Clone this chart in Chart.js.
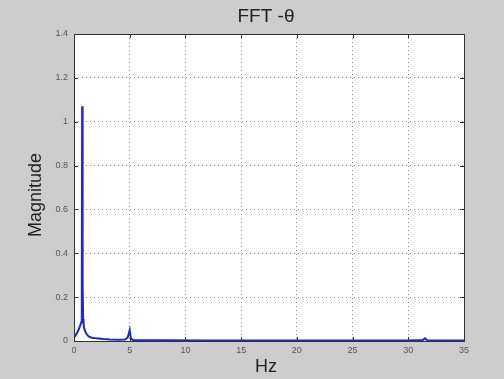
<!DOCTYPE html>
<html>
<head>
<meta charset="utf-8">
<script src="https://cdn.jsdelivr.net/npm/chart.js@4"></script>
<style>
  html, body { margin: 0; padding: 0; background: #cdcdcd; }
  #wrap { width: 504px; height: 379px; position: relative; }
</style>
</head>
<body>
<div id="wrap"><canvas id="fftChart" width="504" height="379"></canvas></div>
<script>
// spectrum samples (Hz, magnitude)
const freqHz = [0, 0.2, 0.4, 0.55, 0.65, 0.7, 0.73, 0.76, 0.79, 0.82, 0.86, 0.9, 1.0, 1.15, 1.35, 1.6, 2.0, 2.6, 3.2, 4.0, 4.6, 4.8, 4.9, 5.0, 5.1, 5.3, 6, 8, 12, 18, 24, 30, 31.3, 31.5, 31.7, 33, 35];
const magnitude = [0.015, 0.03, 0.05, 0.07, 0.085, 0.1, 1.07, 0.09, 0.25, 0.1, 0.08, 0.06, 0.045, 0.03, 0.02, 0.015, 0.012, 0.009, 0.007, 0.006, 0.007, 0.015, 0.03, 0.05, 0.012, 0.004, 0.003, 0.003, 0.002, 0.002, 0.002, 0.002, 0.004, 0.012, 0.003, 0.002, 0.002];
const xTicks = [0, 5, 10, 15, 20, 25, 30, 35];
const yTicks = [0, 0.2, 0.4, 0.6, 0.8, 1, 1.2, 1.4];

const FONT = 'Liberation Sans, Arial, sans-serif';

// white axes box, frame on all sides, and the title / axis labels
const plotBox = {
  id: 'plotBox',
  beforeDraw(chart) {
    const { ctx, chartArea: a } = chart;
    ctx.save();
    ctx.fillStyle = '#ffffff';
    ctx.fillRect(a.left, a.top, a.right - a.left, a.bottom - a.top);
    ctx.restore();
  },
  afterDraw(chart) {
    const { ctx, chartArea: a } = chart;
    const xs = chart.scales.x, ys = chart.scales.y;
    ctx.save();
    ctx.strokeStyle = '#333';
    ctx.lineWidth = 1;
    ctx.strokeRect(a.left + 0.5, a.top + 0.5, a.right - a.left, a.bottom - a.top);
    // small inward ticks on every edge
    ctx.beginPath();
    xTicks.forEach(v => {
      const px = Math.round(xs.getPixelForValue(v)) + 0.5;
      ctx.moveTo(px, a.top); ctx.lineTo(px, a.top + 4);
      ctx.moveTo(px, a.bottom); ctx.lineTo(px, a.bottom - 4);
    });
    yTicks.forEach(v => {
      const py = Math.round(ys.getPixelForValue(v)) + 0.5;
      ctx.moveTo(a.right, py); ctx.lineTo(a.right - 4, py);
      ctx.moveTo(a.left, py); ctx.lineTo(a.left + 4, py);
    });
    ctx.stroke();

    const cx = (a.left + a.right) / 2 - 3;
    ctx.fillStyle = '#222';
    ctx.textAlign = 'center';
    ctx.textBaseline = 'middle';
    ctx.font = '19px ' + FONT;
    ctx.fillText('FFT -θ', cx, 17);
    ctx.font = '18px ' + FONT;
    ctx.fillText('Hz', cx, 367);
    ctx.translate(36, 195);
    ctx.rotate(-Math.PI / 2);
    ctx.fillText('Magnitude', 0, 0);
    ctx.restore();
  }
};

new Chart(document.getElementById('fftChart').getContext('2d'), {
  type: 'scatter',
  data: {
    datasets: [{
      data: freqHz.map((f, i) => ({ x: f, y: magnitude[i] })),
      showLine: true,
      borderColor: '#2424d0',
      borderWidth: 2,
      pointRadius: 0,
      tension: 0
    }]
  },
  options: {
    responsive: false,
    animation: false,
    layout: { padding: { left: 0, right: 40, top: 34, bottom: 0 } },
    plugins: {
      legend: { display: false },
      tooltip: { enabled: false }
    },
    scales: {
      x: {
        type: 'linear',
        min: 0, max: 35,
        afterBuildTicks: s => { s.ticks = xTicks.map(v => ({ value: v })); },
        afterFit: s => { s.height = 38; },
        grid: { color: '#888', drawTicks: false, lineWidth: 1 },
        border: { display: false, dash: [1, 3] },
        ticks: { color: '#555', font: { family: FONT, size: 9 }, padding: 4, maxRotation: 0 }
      },
      y: {
        min: 0, max: 1.4,
        afterBuildTicks: s => { s.ticks = yTicks.map(v => ({ value: v })); },
        afterFit: s => { s.width = 74; },
        grid: { color: '#888', drawTicks: false, lineWidth: 1 },
        border: { display: false, dash: [1, 3] },
        ticks: { color: '#555', font: { family: FONT, size: 9 }, padding: 6, callback: v => String(+v.toFixed(1)) }
      }
    }
  },
  plugins: [plotBox]
});
</script>
</body>
</html>
